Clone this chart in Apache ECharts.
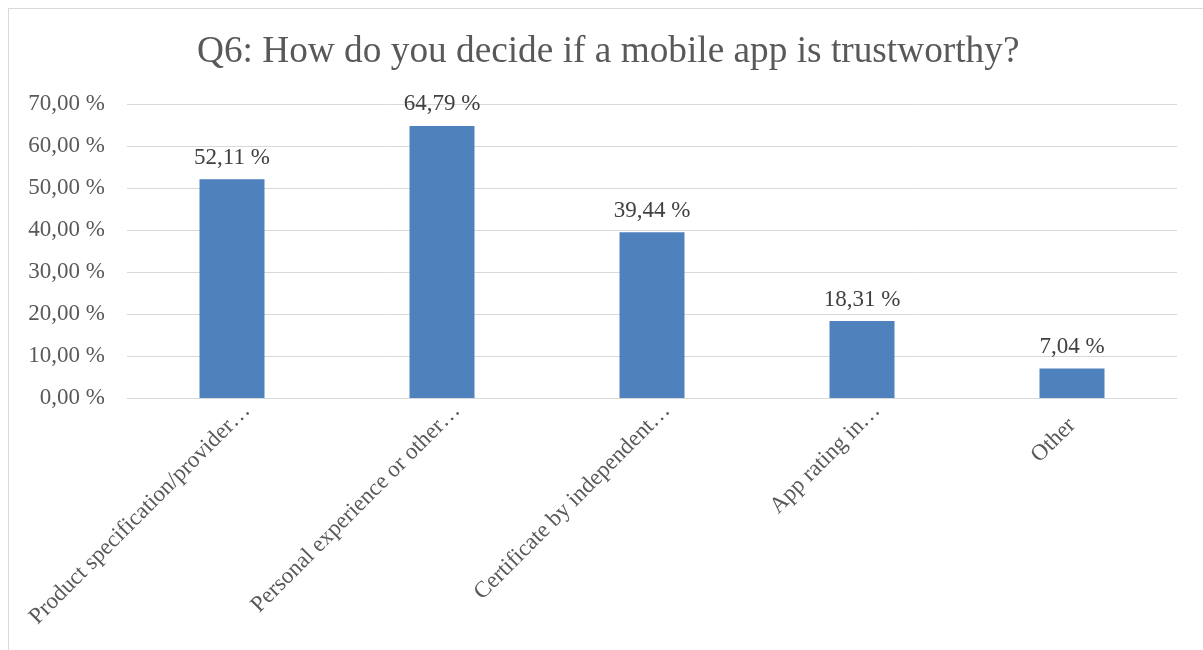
<!DOCTYPE html>
<html>
<head>
<meta charset="utf-8">
<script src="https://cdn.jsdelivr.net/npm/echarts@6/dist/echarts.min.js"></script>
<style>
  html, body { margin: 0; padding: 0; background: #fff; }
  #frame { position: absolute; left: 8px; top: 8px; width: 1195px; height: 642px;
           border-top: 1px solid #d9d9d9; border-left: 1px solid #d9d9d9; box-sizing: border-box; }
  #chart { position: absolute; left: 0; top: 0; width: 1203px; height: 650px; }
</style>
</head>
<body>
<div id="frame"></div>
<div id="chart"></div>
<script>
// Survey answers and their shares (percent)
const categories = [
  'Product specification/provider…',
  'Personal experience or other…',
  'Certificate by independent…',
  'App rating in…',
  'Other'
];
const shares = [52.11, 64.79, 39.44, 18.31, 7.04];
const titleText = 'Q6: How do you decide if a mobile app is trustworthy?';

const fmt = v => v.toFixed(2).replace('.', ',') + ' %';
const serif = '"Liberation Serif", "Times New Roman", serif';

// shortened answers run a little past their tick
const categoryItems = categories.map(c => ({
  value: c,
  textStyle: { padding: c.endsWith('…') ? [0, -21, 0, 0] : 0 }
}));

const chart = echarts.init(document.getElementById('chart'));
chart.setOption({
  animation: false,
  title: {
    text: titleText,
    left: 192,
    top: 29,
    textStyle: { fontFamily: serif, fontWeight: 'normal', fontSize: 37.3, color: '#595959' }
  },
  grid: { left: 127, right: 26, top: 104, bottom: 252, containLabel: false },
  xAxis: {
    type: 'category',
    data: categoryItems,
    axisLine: { lineStyle: { color: '#d9d9d9', width: 1 } },
    axisTick: { show: false },
    axisLabel: {
      rotate: 45,
      interval: 0,
      margin: 24,
      fontFamily: serif,
      fontSize: 23,
      color: '#595959'
    }
  },
  yAxis: {
    type: 'value',
    min: 0,
    max: 70,
    interval: 10,
    axisLine: { show: false },
    axisTick: { show: false },
    splitLine: { lineStyle: { color: '#d9d9d9', width: 1 } },
    axisLabel: {
      formatter: v => fmt(v),
      margin: 22,
      fontFamily: serif,
      fontSize: 23,
      color: '#595959'
    }
  },
  series: [{
    type: 'bar',
    data: shares,
    barWidth: 65,
    itemStyle: { color: '#4F81BD' },
    label: {
      show: true,
      position: 'top',
      distance: 10,
      formatter: p => fmt(p.value),
      fontFamily: serif,
      fontSize: 23,
      color: '#404040'
    }
  }]
});
</script>
</body>
</html>
